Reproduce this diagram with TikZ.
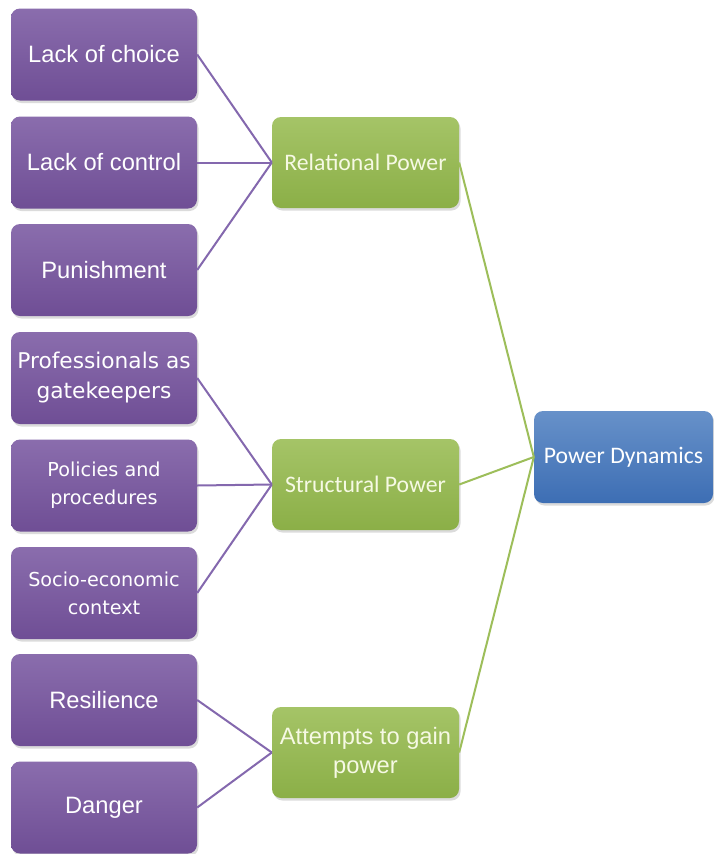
\documentclass[tikz,border=0pt]{standalone}
\usepackage{fontspec}
\setmainfont{Liberation Sans}
\newfontfamily\calfont{Carlito}
\newfontfamily\tahfont{DejaVu Sans}
\usetikzlibrary{shadows}

\definecolor{purpTop}{HTML}{8A6DAD}
\definecolor{purpBot}{HTML}{6F4E95}
\definecolor{greenTop}{HTML}{A5C467}
\definecolor{greenBot}{HTML}{8BAF47}
\definecolor{blueTop}{HTML}{6791C9}
\definecolor{blueBot}{HTML}{3D6EB4}
\definecolor{purpLine}{HTML}{8468AE}
\definecolor{greenLine}{HTML}{9DBE5A}
\definecolor{greenText}{HTML}{F6F9E4}

\tikzset{
  box/.style={rectangle, rounded corners=9pt, inner sep=0pt, align=center,
    draw=none, drop shadow={opacity=0.28, shadow xshift=1.5pt, shadow yshift=-2.5pt}},
  leaf/.style={box, minimum width=186pt, minimum height=92pt,
    top color=purpTop, bottom color=purpBot, text=white,
    font=\fontsize{23.7}{29}\selectfont},
  leafsmall/.style={leaf, font=\tahfont\fontsize{19.2}{28}\selectfont},
  leafmid/.style={leaf, font=\tahfont\fontsize{21.7}{30}\selectfont},
  mid/.style={box, minimum width=187pt, minimum height=91pt,
    top color=greenTop, bottom color=greenBot, text=greenText,
    font=\calfont\fontsize{23.7}{29}\selectfont},
  midarial/.style={mid, font=\fontsize{23.7}{29}\selectfont},
  root/.style={box, minimum width=179pt, minimum height=92pt,
    top color=blueTop, bottom color=blueBot, text=white,
    font=\calfont\fontsize{23.7}{29}\selectfont},
  plink/.style={draw=purpLine, line width=2pt},
  glink/.style={draw=greenLine, line width=2pt}
}

\begin{document}
\begin{tikzpicture}[x=1pt, y=-1pt]
  \useasboundingbox[fill=white] (0,0) rectangle (714,854);

  % purple leaves
  \node[leaf] (choice)  at (104,54.5)  {Lack of choice};
  \node[leaf] (control) at (104,162.5) {Lack of control};
  \node[leaf] (punish)  at (104,270)   {Punishment};
  \node[leafmid]   (gate)   at (104,378)   {Professionals as\\gatekeepers};
  \node[leafsmall] (policy) at (104,485.5) {Policies and\\procedures};
  \node[leafsmall] (socio)  at (104,593)   {Socio-economic\\context};
  \node[leaf] (resil)   at (104,700)   {Resilience};
  \node[leaf] (danger)  at (104,807.5) {Danger};

  % green categories
  \node[mid] (rel)    at (365.5,162.5) {Relational Power};
  \node[mid] (struct) at (365.5,484.5) {Structural Power};
  \node[midarial] (gain) at (365.5,752.5) {Attempts to gain\\power};

  % blue root
  \node[root] (pd) at (623.5,457) {Power Dynamics};

  % connectors
  \foreach \a in {choice,control,punish}
    \draw[plink] (\a.east) -- (rel.west);
  \foreach \a in {gate,policy,socio}
    \draw[plink] (\a.east) -- (struct.west);
  \foreach \a in {resil,danger}
    \draw[plink] (\a.east) -- (gain.west);
  \foreach \a in {rel,struct,gain}
    \draw[glink] (\a.east) -- (pd.west);
\end{tikzpicture}
\end{document}
